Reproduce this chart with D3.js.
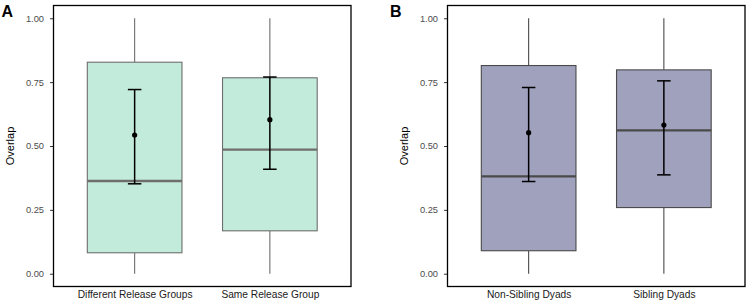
<!DOCTYPE html>
<html>
<head>
<meta charset="utf-8">
<script src="https://cdn.jsdelivr.net/npm/d3@7"></script>
<style>
  body { margin: 0; background: #fff; }
  svg { display: block; font-family: "Liberation Sans", Arial, sans-serif; }
</style>
</head>
<body>
<div id="chart"></div>
<script>
// --- data ---
const yTicks = [0, 0.25, 0.5, 0.75, 1];

const groupsA = ["Different Release Groups", "Same Release Group"];
const boxA = [
  { min: 0, q1: 0.082, median: 0.363, q3: 0.828, max: 1 },
  { min: 0, q1: 0.168, median: 0.486, q3: 0.767, max: 1 }
];
const meanA = [0.543, 0.603];
const ciLowA = [0.352, 0.409];
const ciHighA = [0.721, 0.770];

const groupsB = ["Non-Sibling Dyads", "Sibling Dyads"];
const boxB = [
  { min: 0, q1: 0.090, median: 0.381, q3: 0.815, max: 1 },
  { min: 0, q1: 0.259, median: 0.561, q3: 0.798, max: 1 }
];
const meanB = [0.552, 0.582];
const ciLowB = [0.361, 0.387];
const ciHighB = [0.729, 0.755];

const W = 748, H = 302;
const svg = d3.select("#chart").append("svg").attr("width", W).attr("height", H);

function panel(opts) {
  const { left, right, top, bottom, tag, tagX, groups, box, mean, lo, hi, fill, stroke } = opts;
  const g = svg.append("g");

  const y = d3.scaleLinear().domain([-0.05, 1.05]).range([bottom, top]);
  // discrete positions 1..n with 0.6 expansion like ggplot
  const x = d3.scaleLinear().domain([0.4, groups.length + 0.6]).range([left, right]);
  const unit = x(1) - x(0);
  const boxW = 0.7 * unit, capW = 0.1 * unit;

  // y axis
  g.append("g")
    .attr("transform", `translate(${left},0)`)
    .call(d3.axisLeft(y).tickValues(yTicks).tickFormat(d3.format(".2f")).tickSize(3.5).tickPadding(6))
    .call(a => a.select(".domain").remove())
    .call(a => a.selectAll(".tick line").attr("stroke", "#333").attr("stroke-width", 1))
    .call(a => a.selectAll(".tick text").attr("fill", "#4d4d4d").attr("font-size", "9.3px")
      .attr("font-family", "Liberation Sans, Arial, sans-serif"));

  // x axis labels
  g.append("g")
    .attr("transform", `translate(0,${bottom})`)
    .call(d3.axisBottom(x).tickValues(groups.map((_, i) => i + 1)).tickFormat((d, i) => groups[i]).tickSize(0).tickPadding(4))
    .call(a => a.select(".domain").remove())
    .call(a => a.selectAll(".tick text").attr("fill", "#1a1a1a").attr("font-size", "10.2px")
      .attr("font-family", "Liberation Sans, Arial, sans-serif"));

  // y title
  g.append("text")
    .attr("transform", `translate(${left - 40},${(top + bottom) / 2}) rotate(-90)`)
    .attr("text-anchor", "middle")
    .attr("font-size", "11px")
    .attr("fill", "#000")
    .text("Overlap");

  // tag
  g.append("text")
    .attr("x", tagX).attr("y", 17)
    .attr("font-size", "16px").attr("font-weight", "bold")
    .attr("font-family", "Liberation Sans, Arial, sans-serif")
    .text(tag);

  const items = groups.map((name, i) => ({ name, pos: i + 1, ...box[i], mean: mean[i], lo: lo[i], hi: hi[i] }));

  // whiskers
  g.selectAll(".whisk-up").data(items).join("line")
    .attr("x1", d => x(d.pos)).attr("x2", d => x(d.pos))
    .attr("y1", d => y(d.q3)).attr("y2", d => y(d.max))
    .attr("stroke", stroke).attr("stroke-width", 1.1);
  g.selectAll(".whisk-dn").data(items).join("line")
    .attr("x1", d => x(d.pos)).attr("x2", d => x(d.pos))
    .attr("y1", d => y(d.q1)).attr("y2", d => y(d.min))
    .attr("stroke", stroke).attr("stroke-width", 1.1);

  // boxes
  g.selectAll(".box").data(items).join("rect")
    .attr("x", d => x(d.pos) - boxW / 2).attr("width", boxW)
    .attr("y", d => y(d.q3)).attr("height", d => y(d.q1) - y(d.q3))
    .attr("fill", fill).attr("stroke", stroke).attr("stroke-width", 1.1);

  // medians
  g.selectAll(".med").data(items).join("line")
    .attr("x1", d => x(d.pos) - boxW / 2).attr("x2", d => x(d.pos) + boxW / 2)
    .attr("y1", d => y(d.median)).attr("y2", d => y(d.median))
    .attr("stroke", stroke).attr("stroke-width", 2.4);

  // error bars
  g.selectAll(".err").data(items).join("line")
    .attr("x1", d => x(d.pos)).attr("x2", d => x(d.pos))
    .attr("y1", d => y(d.lo)).attr("y2", d => y(d.hi))
    .attr("stroke", "#000").attr("stroke-width", 1.5);
  ["lo", "hi"].forEach(k => {
    g.selectAll(".cap-" + k).data(items).join("line")
      .attr("x1", d => x(d.pos) - capW / 2).attr("x2", d => x(d.pos) + capW / 2)
      .attr("y1", d => y(d[k])).attr("y2", d => y(d[k]))
      .attr("stroke", "#000").attr("stroke-width", 1.5);
  });

  // means
  g.selectAll(".mean").data(items).join("circle")
    .attr("cx", d => x(d.pos)).attr("cy", d => y(d.mean)).attr("r", 2.6)
    .attr("fill", "#000");

  // panel border
  g.append("rect")
    .attr("x", left).attr("y", top).attr("width", right - left).attr("height", bottom - top)
    .attr("fill", "none").attr("stroke", "#000").attr("stroke-width", 1.3);
}

panel({ left: 53.5, right: 351, top: 5.5, bottom: 286.5, tag: "A", tagX: 1.5,
  groups: groupsA, box: boxA, mean: meanA, lo: ciLowA, hi: ciHighA,
  fill: "#c3ebdb", stroke: "#6e6e6e" });

panel({ left: 447.5, right: 745, top: 5.5, bottom: 286.5, tag: "B", tagX: 390,
  groups: groupsB, box: boxB, mean: meanB, lo: ciLowB, hi: ciHighB,
  fill: "#9fa1bd", stroke: "#4a4a4a" });
</script>
</body>
</html>
